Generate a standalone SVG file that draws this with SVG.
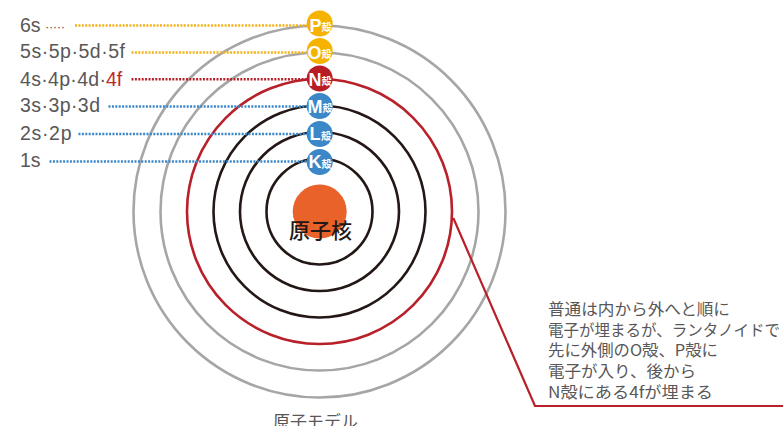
<svg xmlns="http://www.w3.org/2000/svg" width="783" height="426" viewBox="0 0 783 426">
<style>
.shell{fill:none;stroke-width:2.6}
.gray{stroke:#a6a6a6}
.blk{stroke:#231815}
.red{stroke:#b8202a}
.dot{fill:none;stroke-width:2.4;stroke-dasharray:2 1.4}
.lbl{font-family:"Liberation Sans",Arial,sans-serif;font-size:19.5px;fill:#595757}
.bl{font-family:"Liberation Sans",Arial,sans-serif;font-size:18px;font-weight:bold;fill:#fff;text-anchor:end}
.bk{font-family:"Noto Sans CJK JP",sans-serif;font-size:10px;font-weight:bold;fill:#fff}
.jp{font-family:"Noto Sans CJK JP",sans-serif;font-size:15.5px;fill:#595757}
</style>
<rect width="783" height="426" fill="#fff"/>
<g id="shells">
<circle id="shell-P" class="shell gray" cx="319.5" cy="211.5" r="186"/>
<circle id="shell-O" class="shell gray" cx="319.5" cy="211.5" r="159"/>
<circle id="shell-N" class="shell red" cx="319.5" cy="211.5" r="132.5"/>
<circle id="shell-M" class="shell blk" cx="319.5" cy="211.5" r="106"/>
<circle id="shell-L" class="shell blk" cx="319.5" cy="211.5" r="79.5"/>
<circle id="shell-K" class="shell blk" cx="319.5" cy="211.5" r="53"/>
</g>
<g id="nucleus">
<circle cx="319.7" cy="211.5" r="27" fill="#e9622a"/>
<text x="320.5" y="238" font-family="Noto Sans CJK JP,sans-serif" font-size="21" font-weight="500" fill="#231815" text-anchor="middle">原子核</text>
</g>
<g id="connectors">
<line class="dot" stroke="#f3b11b" x1="75" y1="25.5" x2="308" y2="25.5"/>
<line class="dot" stroke="#f3b11b" x1="131.5" y1="52.5" x2="308" y2="52.5"/>
<line class="dot" stroke="#b8202a" x1="131.5" y1="79.2" x2="308" y2="79.2"/>
<line class="dot" stroke="#3b87c8" x1="108.5" y1="106.5" x2="308" y2="106.5"/>
<line class="dot" stroke="#3b87c8" x1="78.5" y1="134" x2="308" y2="134"/>
<line class="dot" stroke="#3b87c8" x1="49.5" y1="161.5" x2="308" y2="161.5"/>
<polyline fill="none" stroke="#b8202a" stroke-width="2.2" points="453.3,218 535,406 783,406"/>
</g>
<g id="labels">
<text class="lbl" x="20" y="31.7">6s<tspan x="45" dy="-1" font-size="13" fill="#595757" textLength="20" lengthAdjust="spacing">·····</tspan></text>
<text class="lbl" x="20" y="58.4" textLength="105" lengthAdjust="spacing">5s·5p·5d·5f</text>
<text class="lbl" x="20" y="85.5" textLength="86" lengthAdjust="spacing">4s·4p·4d·</text>
<text class="lbl" x="106" y="85.5" style="fill:#c0272d">4f</text>
<text class="lbl" x="20" y="112.4" textLength="80" lengthAdjust="spacing">3s·3p·3d</text>
<text class="lbl" x="20" y="139.8" textLength="51.5" lengthAdjust="spacing">2s·2p</text>
<text class="lbl" x="20" y="166.7">1s</text>
</g>
<g id="badge-P"><circle cx="319.7" cy="23.5" r="13" fill="#f5b300"/><text class="bl" x="321.5" y="31.8">P</text><text class="bk" x="321.5" y="31">殻</text></g>
<g id="badge-O"><circle cx="319.7" cy="51" r="13" fill="#f5b300"/><text class="bl" x="321.5" y="58.8">O</text><text class="bk" x="321.5" y="58">殻</text></g>
<g id="badge-N"><circle cx="319.7" cy="78.5" r="13" fill="#b81c24"/><text class="bl" x="321.5" y="85.5">N</text><text class="bk" x="321.5" y="85">殻</text></g>
<g id="badge-M"><circle cx="319.7" cy="106" r="13" fill="#3b87c8"/><text class="bl" x="322.5" y="112.8">M</text><text class="bk" x="322.5" y="112.3">殻</text></g>
<g id="badge-L"><circle cx="319.7" cy="134" r="13" fill="#3b87c8"/><text class="bl" x="320.5" y="140.4">L</text><text class="bk" x="321" y="140">殻</text></g>
<g id="badge-K"><circle cx="319.7" cy="162" r="13" fill="#3b87c8"/><text class="bl" x="321.5" y="168">K</text><text class="bk" x="321.5" y="167.5">殻</text></g>
<g id="note">
<text class="jp" x="548" y="315.3" textLength="182" lengthAdjust="spacingAndGlyphs">普通は内から外へと順に</text>
<text class="jp" x="548" y="335.8" textLength="232" lengthAdjust="spacingAndGlyphs">電子が埋まるが、ランタノイドで</text>
<text class="jp" x="548" y="356.4" textLength="170" lengthAdjust="spacingAndGlyphs">先に外側のO殻、P殻に</text>
<text class="jp" x="548" y="377" textLength="148" lengthAdjust="spacingAndGlyphs">電子が入り、後から</text>
<text class="jp" x="548" y="398.3" textLength="165" lengthAdjust="spacingAndGlyphs">N殻にある4fが埋まる</text>
</g>
<text id="caption" class="jp" x="315.5" y="428" style="font-size:17px" text-anchor="middle">原子モデル</text>
</svg>
